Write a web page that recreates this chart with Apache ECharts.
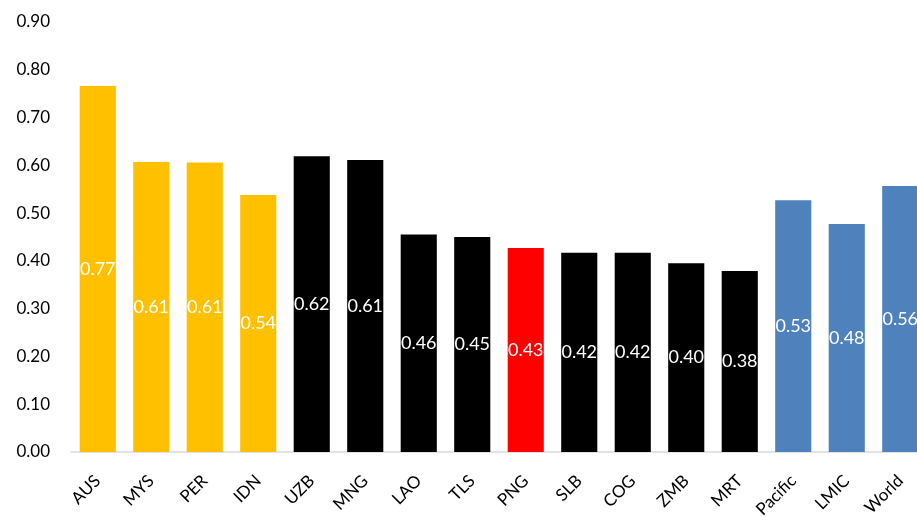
<!DOCTYPE html>
<html>
<head>
<meta charset="utf-8">
<script src="https://cdn.jsdelivr.net/npm/echarts@6/dist/echarts.min.js"></script>
<style>
html,body{margin:0;padding:0;background:#fff;overflow:hidden;width:917px;height:517px;}
#chart{width:927px;height:517px;}
</style>
</head>
<body>
<div id="chart"></div>
<script>
var categories = ['AUS','MYS','PER','IDN','UZB','MNG','LAO','TLS','PNG','SLB','COG','ZMB','MRT','Pacific','LMIC','World'];
var values = [0.766, 0.607, 0.606, 0.538, 0.619, 0.611, 0.455, 0.450, 0.427, 0.417, 0.417, 0.395, 0.379, 0.527, 0.477, 0.557];
var groups = ['high','high','high','high','peer','peer','peer','peer','focus','peer','peer','peer','peer','agg','agg','agg'];
var yTicks = [0,0.1,0.2,0.3,0.4,0.5,0.6,0.7,0.8,0.9];

var groupColor = {high:'#FFC000', peer:'#000000', focus:'#FF0000', agg:'#4F81BD'};
var font = 'Lato, "Open Sans", sans-serif';

var chart = echarts.init(document.getElementById('chart'));
chart.setOption({
  animation: false,
  grid: {left: 71, top: 22, right: 0, bottom: 65, containLabel: false, outerBoundsMode: 'none'},
  xAxis: {
    type: 'category',
    data: categories,
    axisLine: {show: true, lineStyle: {color: '#d9d9d9', width: 1.5}},
    axisTick: {show: false},
    axisLabel: {rotate: 45, interval: 0, margin: 26, color: '#000', fontSize: 17, fontFamily: font}
  },
  yAxis: {
    type: 'value',
    min: yTicks[0],
    max: yTicks[yTicks.length-1],
    interval: 0.1,
    splitLine: {show: false},
    axisLine: {show: false},
    axisTick: {show: false},
    axisLabel: {margin: 21, color: '#000', fontSize: 17, fontFamily: font,
      formatter: function(v){ return v.toFixed(2); }}
  },
  series: [{
    type: 'bar',
    barCategoryGap: '32.5%',
    data: values.map(function(v, i){
      return {value: v, itemStyle: {color: groupColor[groups[i]]}};
    }),
    label: {
      show: true,
      position: 'inside',
      color: '#fff',
      fontSize: 18,
      fontFamily: font,
      formatter: function(p){ return p.value.toFixed(2); }
    }
  }]
});
</script>
</body>
</html>
